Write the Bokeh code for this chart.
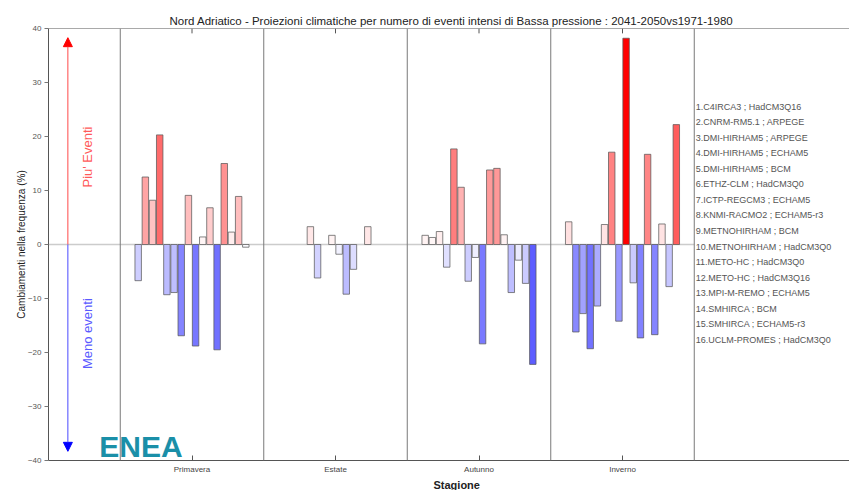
import math
from bokeh.plotting import figure
from bokeh.models import (ColumnDataSource, FixedTicker, Range1d, Span,
                          Arrow, NormalHead, Label, Title)
from bokeh.core.properties import value
from bokeh.embed import file_html
from bokeh.resources import INLINE

# ---------------- data ----------------
seasons = ["Primavera", "Estate", "Autunno", "Inverno"]
models = [
    "1.C4IRCA3 ; HadCM3Q16",
    "2.CNRM-RM5.1 ; ARPEGE",
    "3.DMI-HIRHAM5 ; ARPEGE",
    "4.DMI-HIRHAM5 ; ECHAM5",
    "5.DMI-HIRHAM5 ; BCM",
    "6.ETHZ-CLM ; HadCM3Q0",
    "7.ICTP-REGCM3 ; ECHAM5",
    "8.KNMI-RACMO2 ; ECHAM5-r3",
    "9.METNOHIRHAM ; BCM",
    "10.METNOHIRHAM ; HadCM3Q0",
    "11.METO-HC ; HadCM3Q0",
    "12.METO-HC ; HadCM3Q16",
    "13.MPI-M-REMO ; ECHAM5",
    "14.SMHIRCA ; BCM",
    "15.SMHIRCA ; ECHAM5-r3",
    "16.UCLM-PROMES ; HadCM3Q0",
]
primavera = [-6.7, 12.5, 8.2, 20.3, -9.3, -8.9, -16.9, 9.1, -18.8, 1.4, 6.8, -19.5, 15.0, 2.3, 8.9, -0.5]
estate = [0.0, 0.0, 0.0, 0.0, 3.3, -6.2, 0.0, 1.7, -1.8, -9.2, -4.6, 0.0, 3.3, 0.0, 0.0, 0.0]
autunno = [1.7, 1.3, 2.4, -4.2, 17.7, 10.6, -6.8, -2.4, -18.4, 13.8, 14.1, 1.8, -8.9, -2.9, -7.2, -22.2]
inverno = [4.2, -16.2, -12.8, -19.3, -11.4, 3.7, 17.1, -14.2, 38.2, -7.1, -17.3, 16.7, -16.7, 3.8, -7.8, 22.2]
y_ticks = [-40, -30, -20, -10, 0, 10, 20, 30, 40]

title_text = ("Nord Adriatico - Proiezioni climatiche per numero di eventi intensi di  "
              "Bassa pressione : 2041-2050vs1971-1980")

# ---------------- build ----------------
FONT = "Liberation Sans"
W, H = 849, 490
LEFT, TOP, BOTTOM = 48, 28, 30
PX_PER_UNIT = 143.5
frame_w = W - LEFT
x_max = frame_w / PX_PER_UNIT
YMIN, YMAX = -40, 40


def bar_color(v):
    t = min(abs(v) / 35.0, 1.0)
    c = int(round(255 * (1 - t)))
    if v >= 0:
        return "#%02x%02x%02x" % (255, c, c)
    return "#%02x%02x%02x" % (c, c, 255)


series = [primavera, estate, autunno, inverno]
xs, tops, cols = [], [], []
n = len(models)
for g, vals in enumerate(series):
    for i, v in enumerate(vals):
        if v == 0:
            continue
        xs.append(g + 1 + (i - (n - 1) / 2) * 0.05)
        tops.append(v)
        cols.append(bar_color(v))
src = ColumnDataSource(dict(x=xs, top=tops, color=cols))

p = figure(width=W, height=H, output_backend="svg", toolbar_location=None,
           x_range=Range1d(0, x_max), y_range=Range1d(YMIN, YMAX),
           min_border_left=LEFT, min_border_right=0, min_border_top=TOP,
           min_border_bottom=BOTTOM, background_fill_color="white",
           border_fill_color="white")
p.outline_line_color = None
p.grid.visible = False

# title
p.title.text = title_text
p.title.text_font = FONT
p.title.text_font_size = "11.5px"
p.title.text_font_style = "normal"
p.title.text_color = "#222222"
p.title.align = "left"
p.title.offset = 121
p.title.standoff = 4

# axes
season_pos = [i + 1 for i in range(len(seasons))]
xa = p.xaxis[0]
xa.ticker = FixedTicker(ticks=season_pos)
xa.major_label_overrides = {i + 1: s for i, s in enumerate(seasons)}
xa.major_tick_in = 5
xa.major_tick_out = 0
xa.minor_tick_line_color = None
xa.axis_line_color = "#555555"
xa.major_tick_line_color = "#555555"
xa.major_label_text_font = FONT
xa.major_label_text_font_size = "8px"
xa.major_label_text_color = "#444444"
xa.major_label_standoff = 4

ya = p.yaxis[0]
ya.ticker = FixedTicker(ticks=y_ticks)
ya.major_tick_in = 0
ya.major_tick_out = 4
ya.minor_tick_line_color = None
ya.axis_line_color = "#555555"
ya.major_tick_line_color = "#777777"
ya.major_label_text_font = FONT
ya.major_label_text_font_size = "8px"
ya.major_label_text_color = "#555555"
ya.major_label_standoff = 3
ya.axis_label = "Cambiamenti nella frequenza (%)"
ya.axis_label_text_font = FONT
ya.axis_label_text_font_size = "10px"
ya.axis_label_text_font_style = "normal"
ya.axis_label_text_color = "#222222"
ya.axis_label_standoff = -2

p.add_layout(Title(text="Stagione", align="left", offset=385, text_font=FONT,
                   text_font_size="11px", text_font_style="bold",
                   text_color="#222222", standoff=0), "below")

# top border with inward ticks
p.add_layout(Span(location=YMAX, dimension="width", line_color="#555555", line_width=1))
p.segment(x0=season_pos, x1=season_pos, y0=[YMAX] * len(season_pos),
          y1=[YMAX - 0.9] * len(season_pos), line_color="#555555", line_width=1)

# separators
for xv in [0.5, 1.5, 2.5, 3.5, 4.5]:
    p.add_layout(Span(location=xv, dimension="height", line_color="#7a7a7a",
                      line_width=1))

# zero line
p.segment(x0=[0], x1=[4.5], y0=[0], y1=[0], line_color="#cccccc", line_width=1.5)

# bars
p.vbar(x="x", top="top", bottom=0, width=0.045, fill_color="color",
       line_color="#555555", line_width=0.8, line_alpha=0.9, source=src)

# arrows
arrow_x = 0.135
p.add_layout(Arrow(x_start=arrow_x, y_start=0, x_end=arrow_x, y_end=38.3,
                   line_color="#ff4a4a", line_width=1,
                   end=NormalHead(size=9, fill_color="#ff0000", line_color="#ff0000")))
p.add_layout(Arrow(x_start=arrow_x, y_start=0, x_end=arrow_x, y_end=-38.3,
                   line_color="#4a4aff", line_width=1,
                   end=NormalHead(size=9, fill_color="#0000ff", line_color="#0000ff")))
p.add_layout(Label(x=0.275, y=16.2, text="Piu' Eventi", angle=math.pi / 2,
                   text_align="center", text_baseline="middle",
                   text_color="#ff5a5a", text_font=FONT, text_font_size="13px"))
p.add_layout(Label(x=0.275, y=-16.5, text="Meno eventi", angle=math.pi / 2,
                   text_align="center", text_baseline="middle",
                   text_color="#5a5aff", text_font=FONT, text_font_size="13px"))

# ENEA logo
p.add_layout(Label(x=0.354, y=-37.4, text="ENEA", text_align="left",
                   text_baseline="middle", text_color="#1a8fa8",
                   text_font=FONT, text_font_size="30px", text_font_style="bold"))

# model list
leg_src = ColumnDataSource(dict(
    x=[4.51] * n,
    y=[25.5 - i * 2.875 for i in range(n)],
    t=models))
p.text(x="x", y="y", text="t", source=leg_src, text_font=value(FONT),
       text_font_size="9px", text_color="#555555", text_baseline="middle",
       text_align="left")

open("out.html", "w").write(file_html(p, INLINE))
